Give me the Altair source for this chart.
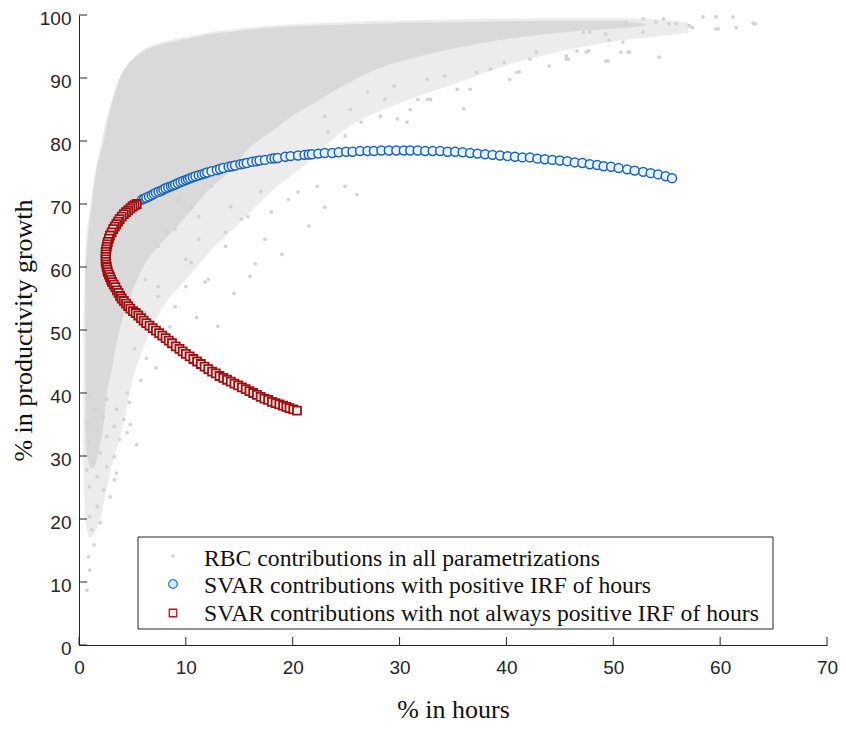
import altair as alt
import pandas as pd

# ---------------- data ----------------
# dense core of the RBC cloud (lower / upper envelope per hours-share)
core_x = [0.6, 0.9, 1.2, 1.6, 2.0, 2.3, 2.6, 3.0, 3.4, 3.8, 4.5, 5.2, 6.0, 7.0, 8.4, 10.0,
          11.0, 12.0, 14.0, 16.0, 18.0, 20.0, 22.0, 25.0, 28.0, 32.0, 36.0, 40.0, 45.0, 50.0, 53.0]
core_lo = [32, 29, 28, 29, 32, 35, 40, 43, 47, 50, 54, 57, 60, 62.5, 65, 68,
           70, 72, 75, 79, 81.5, 84, 86, 89, 91.5, 93.5, 95, 96.2, 97.2, 97.8, 98.3]
core_hi = [60, 66, 70, 75, 78, 80, 82.5, 85.5, 88, 90, 92, 93.2, 94.2, 95, 95.6, 96.2,
           96.5, 96.9, 97.3, 97.7, 98.0, 98.2, 98.3, 98.5, 98.6, 98.8, 98.9, 99.0, 99.1, 99.1, 98.6]

# medium-density halo of the RBC cloud
halo_x = [0.4, 0.6, 1.0, 1.5, 2.0, 2.5, 3.0, 4.0, 5.0, 6.0, 7.0, 8.0, 10.0, 12.0, 15.0,
          18.0, 21.0, 25.0, 30.0, 35.0, 40.0, 45.0, 50.0, 54.0, 57.0]
halo_lo = [30, 20, 17, 18, 20, 24, 28, 34, 42, 47, 51, 54, 58, 62, 67,
           72, 76, 82, 86, 89, 92, 94.2, 95.8, 96.6, 97.2]
halo_hi = [50, 62, 69, 75, 79, 83, 86, 90.5, 93, 94.5, 95.3, 95.8, 96.5, 97.2, 97.8,
           98.3, 98.6, 98.9, 99.1, 99.3, 99.4, 99.5, 99.5, 99.3, 98.8]

# scattered RBC parametrizations around the core
rbc_x = [0.75, 1.0, 0.9, 1.4, 1.2, 2.0, 1.0, 1.7, 2.9, 2.3, 1.0, 3.3, 1.7, 3.5, 0.75, 2.6,
         1.4, 3.3, 2.0, 5.4, 3.8, 1.0, 2.6, 4.5, 4.8, 1.7, 3.3, 0.75, 4.2, 2.3, 1.4, 3.5,
         4.7, 2.6, 1.0, 4.5, 7.2, 5.8, 6.3, 5.2,
         11.2, 14.2, 17.4, 19.6, 8.1, 10.0, 11.8, 7.4, 13.7, 15.8, 18.0, 20.5, 22.3, 24.9,
         9.3, 12.4, 7.4, 9.0, 10.5, 12.1, 11.2, 13.7, 15.2, 7.4, 9.0, 10.0, 6.2, 6.2, 13.0,
         16.5, 14.5, 19.0, 21.5, 8.5, 11.0, 23.0, 26.0, 17.0, 10.5, 16.0,
         36.0, 32.6, 30.7, 29.8, 28.2, 26.4, 24.9, 23.3, 36.6, 35.4, 40.3, 41.0, 38.5, 42.2,
         44.0, 45.6, 34.2, 31.7, 28.6, 27.0, 25.4, 23.0, 24.2, 29.5, 32.6, 37.2, 39.8, 42.8,
         31.0, 32.9, 41.2, 47.5, 49.3, 51.5, 54.3, 52.8, 57.1, 59.6, 61.2, 63.1, 59.6, 58.4,
         55.9, 51.2, 54.7, 52.8, 61.5, 45.6, 46.6, 49.6, 47.2, 47.8, 49.3, 51.2, 54.0, 55.2,
         57.4, 59.8, 63.3, 47.7, 50.7, 51.4, 49.5, 50.9, 45.8]
rbc_y = [8.7, 11.9, 14.0, 15.9, 18.3, 19.4, 20.4, 22.0, 23.5, 24.6, 25.1, 26.2, 26.7, 27.3, 27.8, 28.3,
         29.1, 29.9, 30.5, 31.8, 32.6, 32.1, 33.1, 33.7, 35.0, 34.2, 34.7, 35.3, 35.8, 36.2, 37.4, 37.4,
         38.5, 39.0, 39.4, 40.0, 44.0, 42.0, 45.5, 47.0,
         68.0, 69.6, 64.4, 70.7, 65.5, 61.2, 57.6, 56.9, 65.5, 68.0, 68.7, 71.9, 72.8, 72.8,
         70.7, 72.8, 63.3, 66.0, 60.7, 58.0, 64.4, 63.3, 67.6, 55.3, 53.7, 56.9, 58.0, 52.8, 50.6,
         60.5, 55.8, 62.0, 66.5, 50.5, 52.0, 69.5, 71.5, 72.0, 69.4, 58.5,
         85.1, 86.6, 83.0, 83.5, 83.9, 83.0, 80.8, 81.4, 88.2, 88.2, 89.8, 90.9, 91.4, 93.0,
         91.9, 93.5, 90.3, 86.6, 86.6, 87.8, 85.0, 83.9, 88.7, 88.7, 89.8, 90.9, 92.5, 94.1,
         85.0, 86.6, 91.0, 94.1, 92.7, 94.1, 93.3, 97.3, 98.3, 97.8, 99.7, 98.7, 99.7, 99.7,
         98.6, 98.6, 99.4, 99.4, 98.0, 93.0, 94.3, 96.0, 97.2, 97.3, 97.0, 98.9, 98.9, 98.6,
         98.0, 97.8, 98.6, 94.3, 94.1, 94.1, 92.7, 95.7, 93.0]

# SVAR contributions with positive IRF of hours (blue circles)
pos_x = [5.9, 6.1, 6.3, 6.55, 6.8, 7.0, 7.2, 7.45, 7.7, 7.9, 8.1, 8.35, 8.6, 8.8, 9.0, 9.25,
         9.5, 9.75, 10.0, 10.2, 10.4, 10.65, 10.9, 11.2, 11.5, 11.75, 12.0, 12.4, 12.9, 13.2,
         13.5, 14.0, 14.3, 14.6, 15.1, 15.4, 15.7, 16.2, 16.6, 16.9, 17.4, 18.0, 18.3, 18.6,
         19.3, 19.8, 20.5, 21.1, 21.5, 21.8, 22.4, 23.0, 23.7, 24.3, 25.0, 25.6, 26.3, 27.0,
         27.6, 28.3, 29.0, 29.7, 30.4, 31.0, 31.7, 32.4, 33.1, 33.8, 34.5, 35.2, 35.9, 36.6,
         37.3, 38.0, 38.7, 39.4, 40.1, 40.8, 41.5, 42.2, 42.9, 43.6, 44.3, 45.0, 45.7, 46.4,
         47.1, 47.8, 48.5, 49.1, 49.8, 50.5, 51.3, 52.0, 52.8, 53.5, 54.2, 54.9, 55.5]
pos_y = [70.7, 70.85, 71.0, 71.2, 71.4, 71.6, 71.8, 71.95, 72.1, 72.3, 72.5, 72.65, 72.8, 72.95, 73.1, 73.3,
         73.5, 73.65, 73.8, 73.95, 74.1, 74.25, 74.4, 74.55, 74.7, 74.85, 75.0, 75.2, 75.4, 75.55,
         75.7, 75.9, 76.0, 76.1, 76.3, 76.4, 76.5, 76.7, 76.8, 76.9, 77.0, 77.2, 77.25, 77.3,
         77.5, 77.6, 77.7, 77.8, 77.85, 77.9, 78.0, 78.1, 78.1, 78.2, 78.3, 78.3, 78.4, 78.4,
         78.4, 78.5, 78.5, 78.5, 78.5, 78.5, 78.5, 78.4, 78.4, 78.4, 78.3, 78.3, 78.2, 78.1,
         78.0, 77.9, 77.8, 77.7, 77.6, 77.5, 77.4, 77.4, 77.2, 77.1, 77.0, 76.9, 76.8, 76.6,
         76.5, 76.3, 76.2, 76.0, 75.9, 75.7, 75.5, 75.3, 75.1, 74.9, 74.7, 74.4, 74.1]

# SVAR contributions with not always positive IRF of hours (red squares)
neg_x = [5.4, 5.2, 5.0, 4.8, 4.6, 4.4, 4.2, 4.0, 3.8, 3.65, 3.5, 3.35, 3.2, 3.05, 2.9, 2.8,
         2.7, 2.65, 2.6, 2.55, 2.5, 2.5, 2.5, 2.5, 2.5, 2.55, 2.6, 2.65, 2.7, 2.8, 2.9, 3.0,
         3.1, 3.25, 3.4, 3.55, 3.7, 3.85, 4.0, 4.2, 4.4, 4.6, 4.8, 5.05, 5.3, 5.55, 5.8, 6.05,
         6.3, 6.6, 6.9, 7.2, 7.5, 7.8, 8.1, 8.4, 8.7, 9.05, 9.4, 9.7, 10.0, 10.35, 10.7, 11.05,
         11.4, 11.75, 12.1, 12.45, 12.8, 13.15, 13.5, 13.85, 14.2, 14.55, 14.9, 15.25, 15.6,
         15.95, 16.3, 16.65, 17.0, 17.35, 17.7, 18.05, 18.4, 18.75, 19.1, 19.4, 19.7, 20.05, 20.4]
neg_y = [70.0, 69.8, 69.6, 69.3, 69.0, 68.7, 68.4, 68.0, 67.6, 67.2, 66.8, 66.4, 66.0, 65.5, 65.0, 64.5,
         64.0, 63.6, 63.2, 62.8, 62.4, 62.0, 61.6, 61.2, 60.8, 60.4, 60.0, 59.6, 59.2, 58.8, 58.4, 58.0,
         57.6, 57.2, 56.8, 56.3, 55.9, 55.4, 55.0, 54.6, 54.2, 53.8, 53.4, 53.0, 52.7, 52.3, 51.9, 51.5,
         51.1, 50.7, 50.3, 49.9, 49.5, 49.1, 48.7, 48.3, 47.9, 47.4, 47.0, 46.6, 46.2, 45.8, 45.4, 45.0,
         44.6, 44.2, 43.8, 43.4, 43.1, 42.7, 42.4, 42.1, 41.8, 41.5, 41.2, 40.9, 40.6,
         40.3, 40.0, 39.7, 39.4, 39.1, 38.9, 38.6, 38.4, 38.2, 38.0, 37.8, 37.6, 37.4, 37.2]

x_ticks = [0, 10, 20, 30, 40, 50, 60, 70]
y_ticks = [0, 10, 20, 30, 40, 50, 60, 70, 80, 90, 100]

legend_labels = ["RBC contributions in all parametrizations",
                 "SVAR contributions with positive IRF of hours",
                 "SVAR contributions with not always positive IRF of hours"]

# ---------------- styling ----------------
W, H = 748, 630
INK = "#262626"
GRAY = "#d3d3d3"
BLUE = "#1a64b8"
BLUE_FILL = "#e8f3fc"
RED = "#9e0f12"
RED_FILL = "#fbecec"

xs = alt.Scale(domain=[0, 70], nice=False, zero=False)
ys = alt.Scale(domain=[0, 100], nice=False, zero=False)

x_axis = alt.Axis(values=x_ticks, ticks=False, grid=False, domainColor=INK, domainWidth=1,
                  labelFont="Liberation Sans", labelFontSize=19, labelColor=INK,
                  labelPadding=13, labelFlush=False, labelOverlap=False,
                  title="% in hours", titleFont="Liberation Serif", titleFontSize=26,
                  titleFontWeight="normal", titleColor="#111111", titlePadding=19)
y_axis = alt.Axis(values=y_ticks, ticks=False, grid=False, domainColor=INK, domainWidth=1,
                  labelFont="Liberation Sans", labelFontSize=19, labelColor=INK,
                  labelPadding=8, labelOffset=3, labelFlush=False, labelOverlap=False,
                  title="% in productivity growth", titleFont="Liberation Serif",
                  titleFontSize=26, titleFontWeight="normal", titleColor="#111111",
                  titlePadding=3)


def X(field):
    return alt.X(field, type="quantitative", scale=xs, axis=x_axis)


def Y(field):
    return alt.Y(field, type="quantitative", scale=ys, axis=y_axis)


halo_df = pd.DataFrame({"x": halo_x, "lo": halo_lo, "hi": halo_hi})
core_df = pd.DataFrame({"x": core_x, "lo": core_lo, "hi": core_hi})
rbc_df = pd.DataFrame({"x": rbc_x, "y": rbc_y})
pos_df = pd.DataFrame({"x": pos_x, "y": pos_y})
neg_df = pd.DataFrame({"x": neg_x, "y": neg_y})
xt_df = pd.DataFrame({"t": x_ticks})
yt_df = pd.DataFrame({"t": y_ticks})

halo = alt.Chart(halo_df).mark_area(color="#ececec", orient="vertical", interpolate="monotone").encode(
    x=X("x"), y=Y("lo"), y2="hi")
core = alt.Chart(core_df).mark_area(color="#d9d9d9", orient="vertical", interpolate="monotone").encode(
    x=X("x"), y=Y("lo"), y2="hi")
rbc = alt.Chart(rbc_df).mark_point(shape="circle", filled=True, size=14, color=GRAY, opacity=1).encode(
    x=X("x"), y=Y("y"))
pos = alt.Chart(pos_df).mark_point(shape="circle", size=80, fill=BLUE_FILL, fillOpacity=1,
                                   stroke=BLUE, strokeWidth=1.5, opacity=1).encode(
    x=X("x"), y=Y("y"))
neg = alt.Chart(neg_df).mark_point(shape="square", size=64, fill=RED_FILL, fillOpacity=1,
                                   stroke=RED, strokeWidth=1.8, opacity=1).encode(
    x=X("x"), y=Y("y"))

# inward ticks (MATLAB style)
xticks = alt.Chart(xt_df).mark_rule(color=INK, strokeWidth=1).encode(
    x=X("t"), y=alt.value(H), y2=alt.value(H - 8))
yticks = alt.Chart(yt_df).mark_rule(color=INK, strokeWidth=1).encode(
    y=Y("t"), x=alt.value(0), x2=alt.value(8))

# legend box
one = pd.DataFrame({"label": [legend_labels[0]]})
box = alt.Chart(one).mark_rect(fill="white", stroke=INK, strokeWidth=1).encode(
    x=alt.value(59), x2=alt.value(694), y=alt.value(522), y2=alt.value(614))
rows_y = [543.5, 571, 599]
leg_layers = []
for lab, ry in zip(legend_labels, rows_y):
    leg_layers.append(
        alt.Chart(pd.DataFrame({"label": [lab]})).mark_text(
            align="left", baseline="middle", font="Liberation Serif", fontSize=23.7,
            color="#111111").encode(x=alt.value(125), y=alt.value(ry), text="label:N"))
leg_dot = alt.Chart(one).mark_point(shape="circle", filled=True, size=12, color=GRAY, opacity=1).encode(
    x=alt.value(94), y=alt.value(541))
leg_circ = alt.Chart(one).mark_point(shape="circle", size=75, fill="#d4ebf8", fillOpacity=1,
                                     stroke="#3a7fbf", strokeWidth=1.3, opacity=1).encode(
    x=alt.value(94), y=alt.value(569))
leg_sq = alt.Chart(one).mark_point(shape="square", size=56, fill=RED_FILL, fillOpacity=1,
                                   stroke="#a0202a", strokeWidth=1.3, opacity=1).encode(
    x=alt.value(94), y=alt.value(598))

chart = alt.layer(halo, core, rbc, pos, neg, xticks, yticks, box, *leg_layers,
                  leg_dot, leg_circ, leg_sq).properties(
    width=W, height=H,
    autosize=alt.AutoSizeParams(type="none"),
    padding={"left": 71, "top": 7, "right": 11, "bottom": 80},
    background="white",
).configure_view(stroke=None)

chart.save("out.html", embed_options={"renderer": "svg", "actions": False})
